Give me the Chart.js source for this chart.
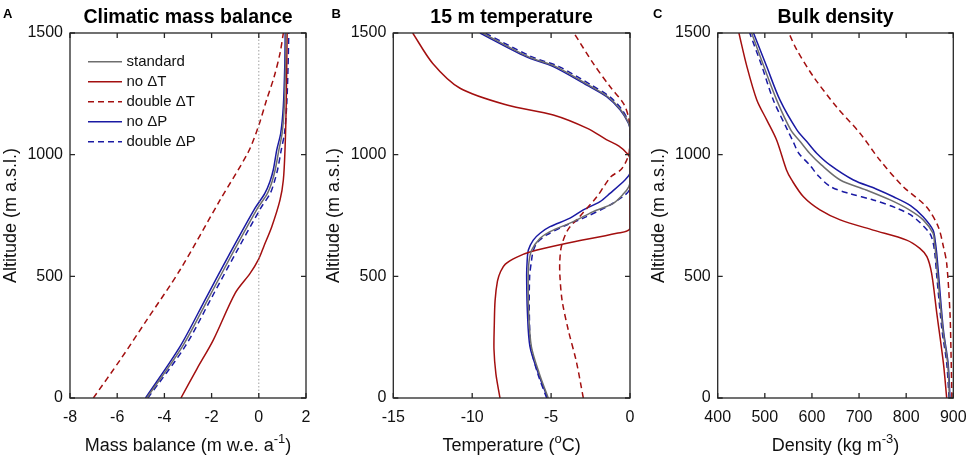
<!DOCTYPE html>
<html>
<head>
<meta charset="utf-8">
<script src="https://cdn.jsdelivr.net/npm/chart.js@4.4.1/dist/chart.umd.min.js"></script>
<style>
  html, body { margin: 0; padding: 0; background: #ffffff; }
  #wrap { position: relative; width: 970px; height: 458px; overflow: hidden; background: #fff; }
  .panel { position: absolute; top: 0; height: 458px; }
</style>
</head>
<body>
<div id="wrap">
  <div class="panel" style="left:0px;width:320px"><canvas id="cA" width="320" height="458"></canvas></div>
  <div class="panel" style="left:320px;width:325px"><canvas id="cB" width="325" height="458"></canvas></div>
  <div class="panel" style="left:645px;width:325px"><canvas id="cC" width="325" height="458"></canvas></div>
</div>
<script>
// ---------------- DATA ----------------
const seriesLabels = ['standard', 'no \u0394T', 'double \u0394T', 'no \u0394P', 'double \u0394P'];
const altitudeTicks = [0, 500, 1000, 1500];
const massTicks = [-8, -6, -4, -2, 0, 2];
const tempTicks = [-15, -10, -5, 0];
const densTicks = [400, 500, 600, 700, 800, 900];

// Panel A: climatic mass balance [m w.e. a-1, altitude m]
const massStandard = [[-4.75,0],[-3.24,211],[-2.10,416],[-1.11,595],[-0.05,780],[0.36,840],[0.56,889],[0.70,940],[0.85,1019],[0.99,1089],[1.08,1200],[1.13,1362],[1.15,1500]];
const massNoDT     = [[-3.30,0],[-2.62,120],[-1.93,238],[-1.00,431],[-0.37,512],[0.00,572],[0.22,625],[0.55,704],[0.90,814],[1.04,896],[1.11,1019],[1.16,1200],[1.20,1500]];
const massDoubleDT = [[-7.01,0],[-5.85,160],[-4.75,320],[-3.34,526],[-1.64,814],[-0.45,1010],[-0.02,1115],[0.33,1225],[0.65,1320],[0.90,1417],[1.04,1500]];
const massNoDP     = [[-4.80,0],[-3.34,211],[-2.21,416],[-1.22,595],[-0.16,780],[0.25,840],[0.47,889],[0.62,940],[0.76,1019],[0.93,1089],[1.04,1200],[1.10,1362],[1.12,1500]];
const massDoubleDP = [[-4.70,0],[-3.13,211],[-1.98,416],[-0.98,595],[0.08,780],[0.48,840],[0.66,889],[0.80,940],[0.95,1019],[1.09,1089],[1.18,1200],[1.24,1362],[1.27,1500]];
const massZeroLine = [[0,0],[0,1500]];

// Panel B: 15 m temperature [degC, altitude m]
const tempStandard = [[-5.18,0],[-5.75,101],[-6.25,211],[-6.42,350],[-6.45,500],[-6.40,560],[-6.23,608],[-5.70,656],[-5.07,684],[-3.59,725],[-2.33,766],[-1.06,800],[-0.40,840],[-0.08,868],[0,890],[0,1100],[-0.08,1129],[-0.58,1184],[-1.40,1238],[-2.62,1286],[-4.70,1362],[-6.45,1403],[-9.35,1500]];
const tempNoDT     = [[-8.24,0],[-8.50,100],[-8.62,200],[-8.60,300],[-8.55,400],[-8.40,480],[-8.20,520],[-7.90,550],[-7.20,578],[-6.30,601],[-4.00,636],[-0.84,677],[0,697],[0,985],[-0.20,1006],[-0.70,1035],[-1.50,1062],[-2.70,1108],[-4.86,1163],[-7.80,1204],[-10.77,1273],[-12.50,1375],[-13.77,1500]];
const tempDoubleDT = [[-2.96,0],[-3.40,150],[-3.91,279],[-4.30,400],[-4.44,500],[-4.45,560],[-4.35,622],[-3.95,690],[-3.20,745],[-2.10,827],[-1.65,870],[-1.20,910],[-0.60,937],[-0.30,965],[-0.05,1010],[0,1100],[-0.10,1156],[-0.42,1211],[-1.27,1280],[-2.33,1375],[-3.55,1500]];
const tempNoDP     = [[-5.22,0],[-5.81,101],[-6.34,211],[-6.50,350],[-6.55,500],[-6.52,560],[-6.44,608],[-6.13,649],[-5.70,677],[-5.07,704],[-3.80,739],[-2.96,773],[-1.90,807],[-1.27,841],[-0.32,896],[0,925],[0,1100],[-0.10,1129],[-0.63,1184],[-1.48,1238],[-2.74,1286],[-4.86,1362],[-6.60,1403],[-9.51,1500]];
const tempDoubleDP = [[-5.28,0],[-5.85,101],[-6.28,211],[-6.38,350],[-6.36,500],[-6.25,560],[-6.15,600],[-5.91,636],[-5.28,670],[-4.01,711],[-2.96,739],[-1.27,793],[-0.40,830],[-0.10,848],[0,865],[0,1100],[-0.05,1129],[-0.50,1184],[-1.28,1238],[-2.45,1286],[-4.50,1362],[-6.25,1403],[-9.19,1500]];

// Panel C: bulk density [kg m-3, altitude m]
const densStandard = [[892,0],[888,143],[878,279],[867,500],[863,590],[860,640],[857,677],[836,732],[805,775],[766,814],[715,855],[660,896],[620,958],[595,1006],[575,1054],[555,1102],[525,1225],[498,1362],[472,1500]];
const densNoDT     = [[886,0],[879,143],[865,348],[854,512],[844,581],[829,615],[801,649],[730,690],[660,732],[617,773],[582,827],[557,896],[546,937],[525,1060],[504,1143],[483,1225],[462,1362],[445,1500]];
const densDoubleDT = [[897,0],[895,200],[893,348],[886,553],[879,622],[868,704],[843,786],[794,868],[744,978],[702,1088],[652,1197],[603,1321],[568,1430],[551,1500]];
const densNoDP     = [[893,0],[889,143],[879,279],[869,500],[865,590],[862,640],[857,690],[836,745],[810,790],[773,827],[735,860],[688,896],[638,958],[610,1006],[589,1054],[568,1102],[532,1225],[504,1362],[476,1500]];
const densDoubleDP = [[891,0],[886,143],[876,279],[865,500],[861,590],[857,640],[850,677],[815,745],[780,780],[730,814],[680,840],[640,868],[615,910],[595,958],[572,1006],[560,1054],[548,1102],[518,1225],[494,1362],[468,1500]];

// ---------------- STYLE ----------------
const FONT = '"Liberation Sans", Arial, Helvetica, sans-serif';
const AXIS_COLOR = '#262626';
const TEXT_COLOR = '#111111';
const seriesStyles = [
  { color: '#6e6e6e', dash: [] },
  { color: '#a30f0f', dash: [] },
  { color: '#a30f0f', dash: [6, 4] },
  { color: '#1a1aa3', dash: [] },
  { color: '#1a1aa3', dash: [6, 4] }
];

function toPoints(arr) { return arr.map(p => ({ x: p[0], y: p[1] })); }

function makeDatasets(list) {
  return list.map((s, i) => ({
    label: seriesLabels[i],
    data: toPoints(s),
    borderColor: seriesStyles[i].color,
    backgroundColor: seriesStyles[i].color,
    borderDash: seriesStyles[i].dash,
    borderWidth: 1.5,
    pointRadius: 0,
    tension: 0.3,
    fill: false
  }));
}

function drawRich(ctx, parts, cx, baseline, size) {
  const supSize = Math.round(size * 0.72);
  let total = 0;
  parts.forEach(p => {
    ctx.font = (p.sup ? supSize : size) + 'px ' + FONT;
    p.w = ctx.measureText(p.t).width;
    total += p.w;
  });
  let x = cx - total / 2;
  ctx.textAlign = 'left';
  ctx.textBaseline = 'alphabetic';
  parts.forEach(p => {
    ctx.font = (p.sup ? supSize : size) + 'px ' + FONT;
    ctx.fillText(p.t, x, p.sup ? baseline - size * 0.45 : baseline);
    x += p.w;
  });
}

const decorPlugin = {
  id: 'decor',
  afterDraw(chart, args, opts) {
    const { ctx, chartArea: a, scales } = chart;
    ctx.save();
    ctx.setLineDash([]);
    // box
    ctx.strokeStyle = AXIS_COLOR;
    ctx.lineWidth = 1.3;
    ctx.strokeRect(a.left, a.top, a.right - a.left, a.bottom - a.top);
    // inward ticks on all sides
    const tl = 5;
    ctx.beginPath();
    scales.x.ticks.forEach(t => {
      const px = scales.x.getPixelForValue(t.value);
      ctx.moveTo(px, a.bottom); ctx.lineTo(px, a.bottom - tl);
      ctx.moveTo(px, a.top); ctx.lineTo(px, a.top + tl);
    });
    scales.y.ticks.forEach(t => {
      const py = scales.y.getPixelForValue(t.value);
      ctx.moveTo(a.left, py); ctx.lineTo(a.left + tl, py);
      ctx.moveTo(a.right, py); ctx.lineTo(a.right - tl, py);
    });
    ctx.stroke();
    // panel title
    ctx.fillStyle = '#000';
    ctx.textAlign = 'center';
    ctx.textBaseline = 'alphabetic';
    ctx.font = 'bold 19.5px ' + FONT;
    ctx.fillText(opts.title, (a.left + a.right) / 2, 23);
    // panel letter
    ctx.textAlign = 'left';
    ctx.font = 'bold 13px ' + FONT;
    ctx.fillText(opts.letter, opts.letterX, 18);
    // x axis title
    ctx.fillStyle = TEXT_COLOR;
    drawRich(ctx, opts.xTitle, (a.left + a.right) / 2, 451, 18);
    // y axis title
    ctx.save();
    ctx.translate(a.left - 59, (a.top + a.bottom) / 2);
    ctx.rotate(-Math.PI / 2);
    ctx.textAlign = 'center';
    ctx.textBaseline = 'middle';
    ctx.font = '18px ' + FONT;
    ctx.fillText(opts.yTitle, 0, 0);
    ctx.restore();
    // legend
    if (opts.legend) {
      const lg = opts.legend;
      ctx.font = '15px ' + FONT;
      ctx.textBaseline = 'middle';
      ctx.textAlign = 'left';
      const items = chart.data.datasets.filter(d => seriesLabels.includes(d.label));
      items.forEach((d, i) => {
        const y = a.top + lg.y0 + i * lg.rowH;
        ctx.strokeStyle = d.borderColor;
        ctx.lineWidth = 1.5;
        ctx.setLineDash(d.borderDash || []);
        ctx.beginPath();
        ctx.moveTo(a.left + lg.x0, y);
        ctx.lineTo(a.left + lg.x0 + lg.lineLen, y);
        ctx.stroke();
        ctx.setLineDash([]);
        ctx.fillStyle = TEXT_COLOR;
        ctx.fillText(d.label, a.left + lg.textX, y + 0.5);
      });
    }
    ctx.restore();
  }
};

function makeChart(id, datasets, xMin, xMax, xStep, padding, decor) {
  return new Chart(document.getElementById(id), {
    type: 'line',
    data: { datasets },
    plugins: [decorPlugin],
    options: {
      responsive: false,
      animation: false,
      events: [],
      layout: { padding },
      plugins: {
        legend: { display: false },
        tooltip: { enabled: false },
        decor
      },
      scales: {
        x: {
          type: 'linear',
          position: 'bottom',
          min: xMin, max: xMax,
          grid: { display: false, drawTicks: false },
          border: { display: false },
          ticks: {
            stepSize: xStep,
            padding: 10,
            color: TEXT_COLOR,
            font: { family: FONT, size: 16 },
            maxRotation: 0,
            autoSkip: false,
            callback: v => String(v)
          },
          afterFit: s => { s.height = 60; s.paddingLeft = 0; s.paddingRight = 0; }
        },
        y: {
          type: 'linear',
          position: 'left',
          min: altitudeTicks[0], max: altitudeTicks[altitudeTicks.length - 1],
          grid: { display: false, drawTicks: false },
          border: { display: false },
          ticks: {
            stepSize: altitudeTicks[1] - altitudeTicks[0],
            padding: 7,
            color: TEXT_COLOR,
            font: { family: FONT, size: 16 },
            callback: v => String(v)
          },
          afterFit: s => { s.width = 70; s.paddingTop = 0; s.paddingBottom = 0; }
        }
      }
    }
  });
}

// Panel A
const dsA = [{
  label: 'zero',
  data: toPoints(massZeroLine),
  borderColor: '#a0a0a0',
  borderDash: [1.5, 2],
  borderWidth: 1,
  pointRadius: 0,
  fill: false
}].concat(makeDatasets([massStandard, massNoDT, massDoubleDT, massNoDP, massDoubleDP]));

makeChart('cA', dsA, massTicks[0], massTicks[massTicks.length - 1], 2,
  { left: 0, right: 14, top: 33, bottom: 0 },
  {
    title: 'Climatic mass balance', letter: 'A', letterX: 3,
    xTitle: [{ t: 'Mass balance (m w.e. a' }, { t: '-1', sup: true }, { t: ')' }],
    yTitle: 'Altitude (m a.s.l.)',
    legend: { x0: 18, y0: 28.7, rowH: 20, lineLen: 34, textX: 56.5 }
  });

// Panel B
makeChart('cB', makeDatasets([tempStandard, tempNoDT, tempDoubleDT, tempNoDP, tempDoubleDP]),
  tempTicks[0], tempTicks[tempTicks.length - 1], 5,
  { left: 3.3, right: 15, top: 33, bottom: 0 },
  {
    title: '15 m temperature', letter: 'B', letterX: 11.5,
    xTitle: [{ t: 'Temperature (' }, { t: 'o', sup: true }, { t: 'C)' }],
    yTitle: 'Altitude (m a.s.l.)'
  });

// Panel C
makeChart('cC', makeDatasets([densStandard, densNoDT, densDoubleDT, densNoDP, densDoubleDP]),
  densTicks[0], densTicks[densTicks.length - 1], 100,
  { left: 2.7, right: 16.7, top: 33, bottom: 0 },
  {
    title: 'Bulk density', letter: 'C', letterX: 8,
    xTitle: [{ t: 'Density (kg m' }, { t: '-3', sup: true }, { t: ')' }],
    yTitle: 'Altitude (m a.s.l.)'
  });
</script>
</body>
</html>
